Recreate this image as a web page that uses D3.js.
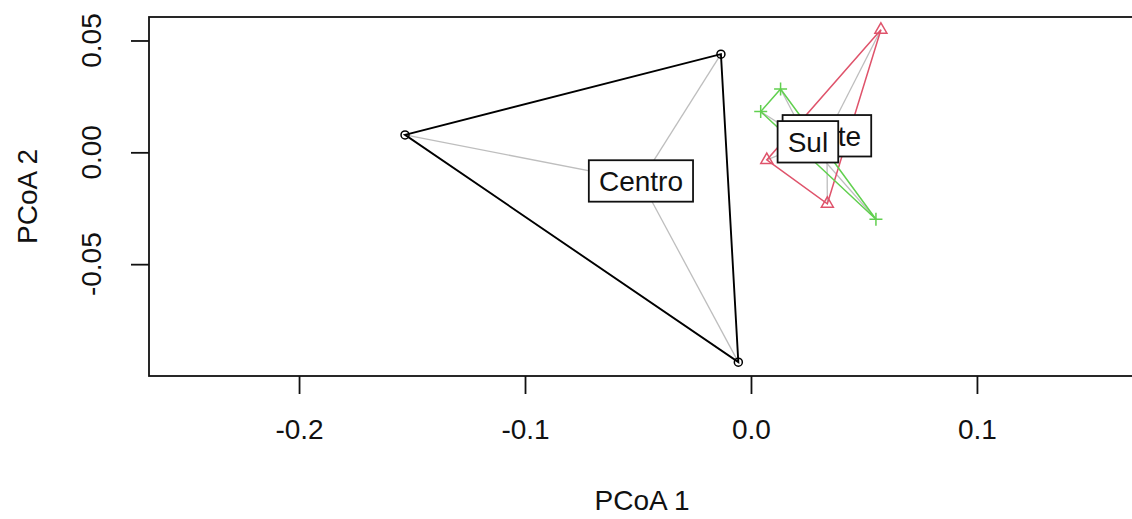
<!DOCTYPE html>
<html>
<head>
<meta charset="utf-8">
<script src="https://cdn.jsdelivr.net/npm/d3@7"></script>
<style>
  html, body { margin: 0; padding: 0; background: #fff; }
  svg { display: block; }
  text { font-family: "Liberation Sans", Arial, sans-serif; fill: #111; }
</style>
</head>
<body>
<svg id="chart" width="1132" height="519"></svg>
<script>
// Groups (multivariate dispersion, PCoA axes 1 and 2)
const groups = ["Centro", "Norte", "Sul"];
const groupColors = ["#000000", "#DF536B", "#61D04F"];
const groupSymbols = ["circle", "triangle", "plus"];

// Site scores per group
const centroPC1 = [-0.1531, -0.0133, -0.0056];
const centroPC2 = [0.0078, 0.0439, -0.0938];
const nortePC1 = [0.0575, 0.0070, 0.0338];
const nortePC2 = [0.0548, -0.0034, -0.0230];
const sulPC1 = [0.0131, 0.0043, 0.0553];
const sulPC2 = [0.0283, 0.0182, -0.0299];

// Group centroids (same order as groups)
const centroidPC1 = [-0.0487, 0.0336, 0.0252];
const centroidPC2 = [-0.0128, 0.0074, 0.0047];

// Axis ticks
const xTicks = [-0.2, -0.1, 0.0, 0.1];
const xTickLabels = ["-0.2", "-0.1", "0.0", "0.1"];
const yTicks = [0.05, 0.0, -0.05];
const yTickLabels = ["0.05", "0.00", "-0.05"];

const xTitle = "PCoA 1";
const yTitle = "PCoA 2";

const sitesPC1 = [centroPC1, nortePC1, sulPC1];
const sitesPC2 = [centroPC2, nortePC2, sulPC2];

const svg = d3.select("#chart");

const x = d3.scaleLinear().domain([-0.2664, 0.1726]).range([149, 1141]);
const y = d3.scaleLinear().domain([-0.1, 0.0605]).range([376, 17]);

const FONT = 28;

// Segments from sites to their centroid
groups.forEach((g, i) => {
  sitesPC1[i].forEach((v, k) => {
    svg.append("line")
      .attr("x1", x(centroidPC1[i])).attr("y1", y(centroidPC2[i]))
      .attr("x2", x(v)).attr("y2", y(sitesPC2[i][k]))
      .attr("stroke", "#BEBEBE").attr("stroke-width", 1.3);
  });
});

// Convex hulls
groups.forEach((g, i) => {
  const pts = sitesPC1[i].map((v, k) => [x(v), y(sitesPC2[i][k])]);
  const hull = d3.polygonHull(pts);
  svg.append("path")
    .attr("d", "M" + hull.map(p => p.join(",")).join("L") + "Z")
    .attr("fill", "none")
    .attr("stroke", groupColors[i])
    .attr("stroke-width", i === 0 ? 1.9 : 1.5);
});

// Site symbols
function symbolPath(kind) {
  if (kind === "circle") {
    return d3.symbol().type(d3.symbolCircle).size(Math.PI * 4 * 4)();
  }
  if (kind === "triangle") {
    const s = 12, h = s * Math.sqrt(3) / 2;
    return `M0,${-h * 2 / 3}L${s / 2},${h / 3}L${-s / 2},${h / 3}Z`;
  }
  const r = 6.5;
  return `M${-r},0L${r},0M0,${-r}L0,${r}`;
}

groups.forEach((g, i) => {
  svg.append("g").selectAll("path")
    .data(sitesPC1[i].map((v, k) => [v, sitesPC2[i][k]]))
    .join("path")
    .attr("transform", d => `translate(${x(d[0])},${y(d[1])})`)
    .attr("d", symbolPath(groupSymbols[i]))
    .attr("fill", "none")
    .attr("stroke", groupColors[i])
    .attr("stroke-width", 1.5);
});

// Centroid labels in boxes
groups.forEach((g, i) => {
  const lg = svg.append("g")
    .attr("transform", `translate(${x(centroidPC1[i])},${y(centroidPC2[i])})`);
  const rect = lg.append("rect");
  const t = lg.append("text")
    .attr("text-anchor", "middle")
    .attr("dy", "0.36em")
    .style("font-size", FONT + "px")
    .text(g);
  const w = t.node().getComputedTextLength() + FONT * 0.72;
  const h = FONT * 1.48;
  rect.attr("x", -w / 2).attr("y", -h / 2).attr("width", w).attr("height", h)
    .attr("fill", "#fff").attr("stroke", "#111").attr("stroke-width", 1.8);
});

// Plot frame
svg.append("rect")
  .attr("x", x.range()[0]).attr("y", y.range()[1])
  .attr("width", x.range()[1] - x.range()[0])
  .attr("height", y.range()[0] - y.range()[1])
  .attr("fill", "none").attr("stroke", "#111").attr("stroke-width", 1.8);

// Bottom axis
const xAxis = svg.append("g")
  .attr("transform", `translate(0,${y.range()[0]})`)
  .call(d3.axisBottom(x).tickValues(xTicks).tickSize(18).tickSizeOuter(0)
    .tickPadding(25)
    .tickFormat((d, k) => xTickLabels[k]));
xAxis.select(".domain").remove();
xAxis.selectAll(".tick line").attr("stroke", "#111").attr("stroke-width", 1.8);
xAxis.selectAll(".tick text").style("font-size", FONT + "px")
  .style("font-family", "Liberation Sans, Arial, sans-serif").attr("fill", "#111");

// Left axis, labels rotated parallel to the axis
const yAxis = svg.append("g")
  .attr("transform", `translate(${x.range()[0]},0)`)
  .call(d3.axisLeft(y).tickValues(yTicks).tickSize(18).tickSizeOuter(0)
    .tickFormat(() => ""));
yAxis.select(".domain").remove();
yAxis.selectAll(".tick line").attr("stroke", "#111").attr("stroke-width", 1.8);
svg.append("g").selectAll("text")
  .data(yTicks)
  .join("text")
  .attr("transform", (d) => `translate(101,${y(d)}) rotate(-90)`)
  .attr("text-anchor", "middle")
  .style("font-size", FONT + "px")
  .text((d, k) => yTickLabels[k]);

// Axis titles
svg.append("text")
  .attr("x", (x.range()[0] + x.range()[1]) / 2 - 3)
  .attr("y", 510)
  .attr("text-anchor", "middle")
  .style("font-size", FONT + "px")
  .text(xTitle);

svg.append("text")
  .attr("transform", `translate(37,${(y.range()[0] + y.range()[1]) / 2}) rotate(-90)`)
  .attr("text-anchor", "middle")
  .style("font-size", FONT + "px")
  .text(yTitle);
</script>
</body>
</html>
